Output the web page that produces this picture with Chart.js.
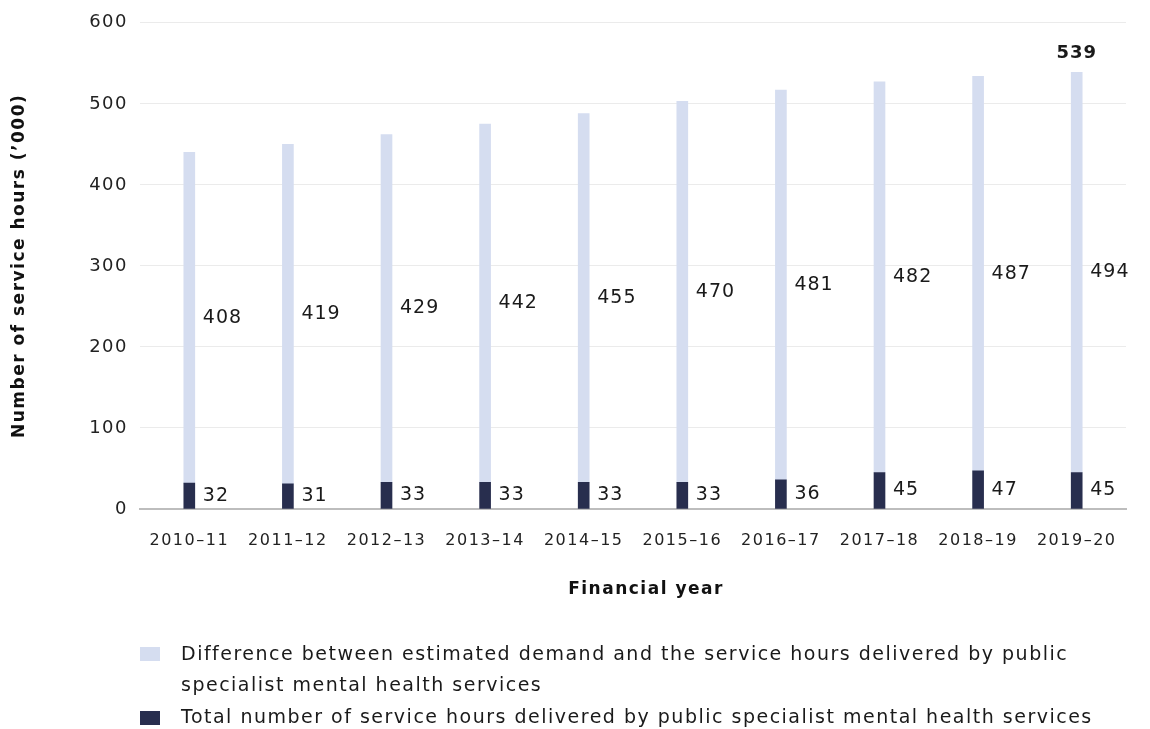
<!DOCTYPE html>
<html lang="en">
<head>
    <meta charset="UTF-8">
    <script src="https://cdn.jsdelivr.net/npm/chart.js"></script>
    <title>Service hours</title>
    <style>
        body { margin: 0; background: #fff; }
        #wrap { width: 1150px; height: 729px; }
    </style>
</head>
<body>
    <div id="wrap">
        <canvas id="myChart" width="1150" height="729"></canvas>
    </div>

    <script>
        const years = ['2010\u201311', '2011\u201312', '2012\u201313', '2013\u201314', '2014\u201315',
                       '2015\u201316', '2016\u201317', '2017\u201318', '2018\u201319', '2019\u201320'];
        const delivered = [32, 31, 33, 33, 33, 33, 36, 45, 47, 45];
        const gap = [408, 419, 429, 442, 455, 470, 481, 482, 487, 494];
        const yTicks = [0, 100, 200, 300, 400, 500, 600];

        const gapLabel = 'Difference between estimated demand and the service hours delivered by public specialist mental health services';
        const deliveredLabel = 'Total number of service hours delivered by public specialist mental health services';

        const lightBlue = '#d5ddf0';
        const navy = '#282e4e';
        const fontFamily = '"DejaVu Sans", sans-serif';

        // wider tracking for the axis text
        const tracking = {
            id: 'tracking',
            beforeDraw(chart) { chart.ctx.letterSpacing = '1.5px'; }
        };

        // value labels next to each bar segment, plus the total above the last bar
        const valueLabels = {
            id: 'valueLabels',
            afterDatasetsDraw(chart) {
                const ctx = chart.ctx;
                ctx.save();
                ctx.fillStyle = '#1a1a1a';
                ctx.font = '19px ' + fontFamily;
                ctx.letterSpacing = '1px';
                ctx.textAlign = 'left';
                ctx.textBaseline = 'middle';
                chart.data.datasets.forEach((ds, i) => {
                    chart.getDatasetMeta(i).data.forEach((bar, j) => {
                        const mid = (bar.y + bar.base) / 2;
                        ctx.fillText(ds.data[j], bar.x + bar.width / 2 + 8, mid);
                    });
                });
                const last = years.length - 1;
                const topBar = chart.getDatasetMeta(1).data[last];
                ctx.font = 'bold 18px ' + fontFamily;
                ctx.textAlign = 'center';
                ctx.textBaseline = 'bottom';
                ctx.fillText(delivered[last] + gap[last], topBar.x, topBar.y - 10);
                ctx.restore();
            }
        };

        // x axis title and the legend under it
        const bottomText = {
            id: 'bottomText',
            afterDraw(chart) {
                const ctx = chart.ctx;
                ctx.save();
                ctx.textBaseline = 'middle';
                ctx.fillStyle = '#111';
                ctx.font = 'bold 17px ' + fontFamily;
                ctx.letterSpacing = '1.5px';
                ctx.textAlign = 'center';
                ctx.fillText('Financial year', 646, 590);

                ctx.font = '19px ' + fontFamily;
                ctx.textAlign = 'left';
                const boxX = 140, textX = 181;
                ctx.fillStyle = lightBlue;
                ctx.fillRect(boxX, 647, 20, 14);
                ctx.fillStyle = '#1a1a1a';
                ctx.fillText('Difference between estimated demand and the service hours delivered by public', textX, 655);
                ctx.fillText('specialist mental health services', textX, 686);
                ctx.fillStyle = navy;
                ctx.fillRect(boxX, 711, 20, 14);
                ctx.fillStyle = '#1a1a1a';
                ctx.fillText(deliveredLabel, textX, 718);
                ctx.restore();
            }
        };

        const ctx = document.getElementById('myChart').getContext('2d');
        const myChart = new Chart(ctx, {
            type: 'bar',
            data: {
                labels: years,
                datasets: [{
                    label: deliveredLabel,
                    data: delivered,
                    backgroundColor: navy,
                    barThickness: 11
                }, {
                    label: gapLabel,
                    data: gap,
                    backgroundColor: lightBlue,
                    barThickness: 11
                }]
            },
            options: {
                responsive: false,
                animation: false,
                layout: { padding: { top: 14, right: 24, bottom: 120, left: 0 } },
                plugins: {
                    legend: { display: false },
                    tooltip: { enabled: false }
                },
                scales: {
                    x: {
                        stacked: true,
                        grid: { display: false },
                        border: { display: true, color: '#bdbdbd', width: 2 },
                        ticks: { color: '#222', font: { size: 16, family: fontFamily }, padding: 14 },
                        afterFit(axis) { axis.height = 100; }
                    },
                    y: {
                        stacked: true,
                        min: 0,
                        max: 600,
                        afterBuildTicks(axis) { axis.ticks = yTicks.map(v => ({ value: v })); },
                        grid: { color: '#ebebeb', drawTicks: false },
                        border: { display: false },
                        ticks: { color: '#222', font: { size: 18, family: fontFamily }, padding: 12 },
                        title: {
                            display: true,
                            text: 'Number of service hours (\u2019000)',
                            color: '#111',
                            font: { size: 17, weight: 'bold', family: fontFamily },
                            padding: { top: 9, bottom: 40 }
                        },
                        afterFit(axis) { axis.width = 140; }
                    }
                }
            },
            plugins: [tracking, valueLabels, bottomText]
        });
    </script>
</body>
</html>
